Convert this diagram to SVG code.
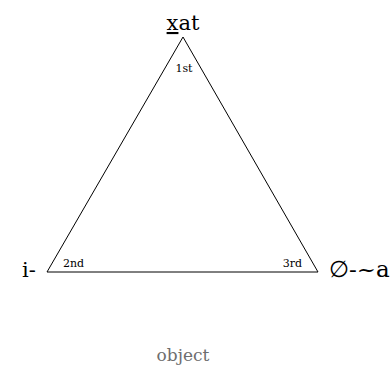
<svg xmlns="http://www.w3.org/2000/svg" width="392" height="365" viewBox="0 0 392 365">
<style>
text{font-family:"DejaVu Serif","Liberation Serif",serif;fill:#000}
.big{font-size:21px}
.sm{font-size:11px}
.lbl{font-size:17px;fill:#6e6e6e}
</style>
<rect width="392" height="365" fill="#fff"/>
<g id="connectors">
<polygon points="183,37 47,272 318,272" fill="none" stroke="#000" stroke-width="1"/>
</g>
<g id="top"><text class="big" x="183" y="30" text-anchor="middle"><tspan text-decoration="underline">x</tspan>at</text><text class="sm" x="184" y="72" text-anchor="middle">1st</text></g>
<g id="left"><text class="big" x="29" y="277" text-anchor="middle">i-</text><text class="sm" x="63" y="267">2nd</text></g>
<g id="right"><text class="big" x="329" y="277" style="font-size:23px">∅-~a</text><text class="sm" x="302" y="267" text-anchor="end">3rd</text></g>
<g id="object"><text class="lbl" x="183" y="361" text-anchor="middle">object</text></g>
</svg>
